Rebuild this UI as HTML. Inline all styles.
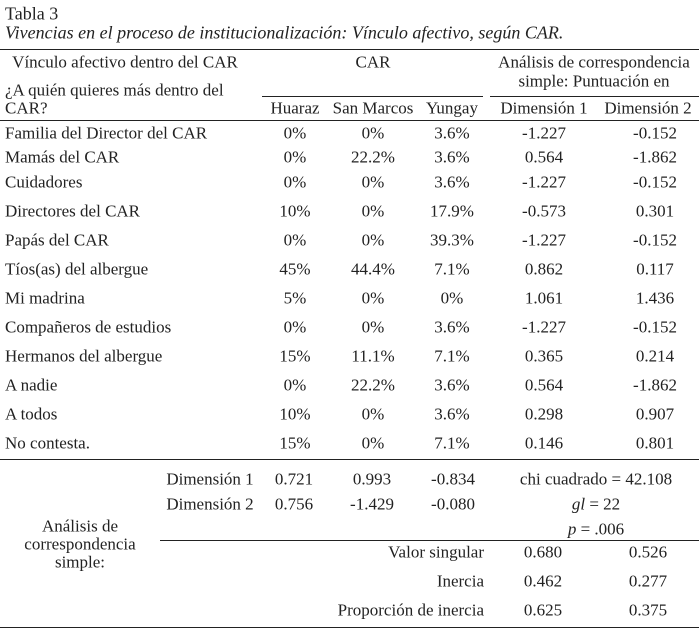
<!DOCTYPE html>
<html><head><meta charset="utf-8"><style>
body{margin:0;background:#fff;}
#t{position:relative;width:699px;height:633px;font-family:"Liberation Serif","Times New Roman",Times,serif;font-size:17px;color:#222;overflow:hidden}
.s{position:absolute;white-space:nowrap;line-height:19px;transform:translateY(-50%)}
.c{transform:translate(-50%,-50%)}
.r{transform:translate(-100%,-50%)}
.ln{position:absolute;height:1.3px;background:#222}
</style></head><body>
<div id="t">
<div class="s" style="left:5px;top:14px;font-size:18px">Tabla 3</div>
<div class="s" style="left:5px;top:33px;font-style:italic;font-size:18px">Vivencias en el proceso de institucionalización: Vínculo afectivo, según CAR.</div>
<div class="ln" style="left:0;width:699px;top:49px"></div>
<div class="s c" style="left:125px;top:62px">Vínculo afectivo dentro del CAR</div>
<div class="s" style="left:5px;top:90px">¿A quién quieres más dentro del</div>
<div class="s" style="left:5px;top:108px">CAR?</div>
<div class="s c" style="left:373px;top:62px">CAR</div>
<div class="s c" style="left:594px;top:62px">Análisis de correspondencia</div>
<div class="s c" style="left:594px;top:81px">simple: Puntuación en</div>
<div class="ln" style="left:262px;width:221px;top:96px"></div>
<div class="ln" style="left:490px;width:209px;top:96px"></div>
<div class="s c" style="left:295px;top:108px">Huaraz</div>
<div class="s c" style="left:373px;top:108px">San Marcos</div>
<div class="s c" style="left:452px;top:108px">Yungay</div>
<div class="s c" style="left:544px;top:108px">Dimensión 1</div>
<div class="s c" style="left:648px;top:108px">Dimensión 2</div>
<div class="ln" style="left:0;width:699px;top:120px"></div>
<div class="ln" style="left:0;width:699px;top:459px"></div>
<div class="s c" style="left:210px;top:479px">Dimensión 1</div>
<div class="s c" style="left:294px;top:479px">0.721</div>
<div class="s c" style="left:372px;top:479px">0.993</div>
<div class="s c" style="left:453px;top:479px">-0.834</div>
<div class="s c" style="left:596px;top:479px">chi cuadrado = 42.108</div>
<div class="s c" style="left:210px;top:504px">Dimensión 2</div>
<div class="s c" style="left:294px;top:504px">0.756</div>
<div class="s c" style="left:372px;top:504px">-1.429</div>
<div class="s c" style="left:453px;top:504px">-0.080</div>
<div class="s c" style="left:596px;top:504px"><i>gl</i> = 22</div>
<div class="s c" style="left:596px;top:529px"><i>p</i> = .006</div>
<div class="ln" style="left:160px;width:539px;top:540px"></div>
<div class="s c" style="left:80px;top:526px">Análisis de</div>
<div class="s c" style="left:80px;top:544px">correspondencia</div>
<div class="s c" style="left:80px;top:562px">simple:</div>
<div class="s r" style="left:484px;top:552px">Valor singular</div>
<div class="s c" style="left:543px;top:552px">0.680</div>
<div class="s c" style="left:648px;top:552px">0.526</div>
<div class="s r" style="left:484px;top:581px">Inercia</div>
<div class="s c" style="left:543px;top:581px">0.462</div>
<div class="s c" style="left:648px;top:581px">0.277</div>
<div class="s r" style="left:484px;top:610px">Proporción de inercia</div>
<div class="s c" style="left:543px;top:610px">0.625</div>
<div class="s c" style="left:648px;top:610px">0.375</div>
<div class="ln" style="left:0;width:699px;top:627px"></div>
</div>
<script>
const categories=["Familia del Director del CAR","Mamás del CAR","Cuidadores","Directores del CAR","Papás del CAR","Tíos(as) del albergue","Mi madrina","Compañeros de estudios","Hermanos del albergue","A nadie","A todos","No contesta."];
const huaraz=["0%","0%","0%","10%","0%","45%","5%","0%","15%","0%","10%","15%"];
const sanMarcos=["0%","22.2%","0%","0%","0%","44.4%","0%","0%","11.1%","22.2%","0%","0%"];
const yungay=["3.6%","3.6%","3.6%","17.9%","39.3%","7.1%","0%","3.6%","7.1%","3.6%","3.6%","7.1%"];
const dim1=["-1.227","0.564","-1.227","-0.573","-1.227","0.862","1.061","-1.227","0.365","0.564","0.298","0.146"];
const dim2=["-0.152","-1.862","-0.152","0.301","-0.152","0.117","1.436","-0.152","0.214","-1.862","0.907","0.801"];
const rowY=[133,157,182,211,240,269,298,327,356,385,414,443];
const t=document.getElementById('t');
function add(txt,x,y,cls){const d=document.createElement('div');d.className='s '+cls;d.style.left=x+'px';d.style.top=y+'px';d.textContent=txt;t.appendChild(d);return d;}
categories.forEach((c,i)=>{
 const y=rowY[i];
 let e=add(c,5,y,'');
 
 
 e=add(huaraz[i],295,y,'c');
 
 
 e=add(sanMarcos[i],373,y,'c');
 
 
 e=add(yungay[i],452,y,'c');
 
 
 e=add(dim1[i],544,y,'c');
 
 
 e=add(dim2[i],655,y,'c');
 
 
});
</script>
</body></html>
